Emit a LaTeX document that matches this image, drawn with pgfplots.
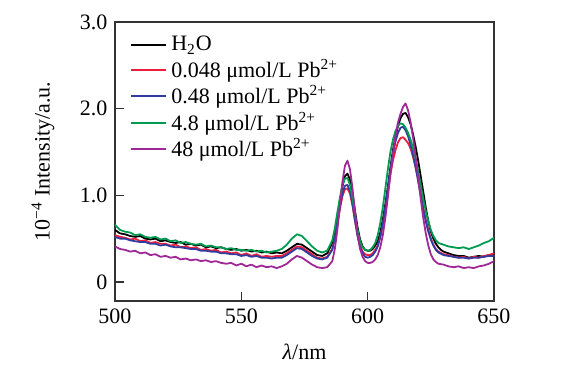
\documentclass[border=0pt]{standalone}
\usepackage{fontspec}
\setmainfont{Liberation Serif}
\usepackage{pgfplots}
\pgfplotsset{compat=1.18}
\definecolor{cred}{RGB}{235,30,60}
\definecolor{cblue}{RGB}{50,60,160}
\definecolor{cgreen}{RGB}{0,155,80}
\definecolor{cpurple}{RGB}{160,40,150}
\begin{document}
\fontsize{11}{13}\selectfont
\begin{tikzpicture}
\useasboundingbox (-57.5pt,-45.5pt) rectangle (227.5pt,150.5pt);
\begin{axis}[
  scale only axis, width=189.5pt, height=139.5pt,
  xmin=500, xmax=650, ymin=-0.22, ymax=3.0,
  xtick={500,550,600,650}, ytick={0,1,2,3},
  yticklabels={0,1.0,2.0,3.0},
  tick align=inside, xtick pos=bottom, ytick pos=left,
  major tick length=4.5pt,
  axis line style={black!80, line width=0.8pt},
  tick style={black!80, line width=0.6pt},
  /pgf/number format/assume math mode=true,
  ticklabel style={font=\fontsize{11}{13}\selectfont},
  /pgf/number format/1000 sep={},
  xlabel={\textit{λ}/nm},
  ylabel={10\textsuperscript{−4} Intensity/a.u.},
  xlabel style={at={(axis description cs:0.5,-0.183)}, anchor=center, font=\fontsize{11}{13}\selectfont},
  ylabel style={at={(axis description cs:-0.19,0.5)}, anchor=center, rotate=0, font=\fontsize{11}{13}\selectfont},
  legend style={draw=none, fill=none, at={(axis description cs:0.04,0.965)}, anchor=north west,
    font=\fontsize{11}{10.5}\selectfont, row sep=-1.5pt, inner sep=0pt},
  legend cell align=left,
  legend image code/.code={\draw[#1, line width=0.9pt] (0pt,0pt) -- (17.5pt,0pt);},
  every axis plot/.append style={line width=0.9pt, line join=round},
]
\addplot[black] coordinates {
(500,0.60)(502,0.56)(504,0.55)(506,0.53)(508,0.52)(510,0.53)(512,0.50)(514,0.49)(516,0.50)(518,0.47)
(520,0.48)(522,0.46)(524,0.45)(526,0.46)(528,0.43)(530,0.44)(532,0.42)(534,0.43)(536,0.40)(538,0.41)
(540,0.39)(542,0.40)(544,0.38)(546,0.37)(548,0.38)(550,0.36)(552,0.37)(554,0.35)(556,0.36)(558,0.34)
(560,0.35)(562,0.33)(564,0.34)(566,0.33)(568,0.36)(570,0.40)(572,0.44)(574,0.43)(576,0.39)(578,0.35)
(580,0.31)(582,0.30)(584,0.33)(586,0.45)(587,0.58)(588,0.75)(589,0.93)(590,1.10)(591,1.22)(592,1.25)
(593,1.18)(594,1.02)(595,0.82)(596,0.63)(597,0.49)(598,0.41)(599,0.37)(600,0.36)(601,0.36)(602,0.38)
(603,0.42)(604,0.47)(605,0.57)(606,0.72)(607,0.90)(608,1.10)(609,1.32)(610,1.52)(611,1.67)(612,1.80)
(613,1.89)(614,1.94)(615,1.95)(616,1.90)(617,1.82)(618,1.70)(619,1.56)(620,1.40)(621,1.22)(622,1.04)
(623,0.86)(624,0.70)(625,0.58)(626,0.50)(627,0.44)(628,0.40)(629,0.37)(630,0.35)(632,0.33)(634,0.31)
(636,0.30)(638,0.30)(640,0.28)(642,0.29)(644,0.30)(646,0.29)(648,0.31)(650,0.32)
};
\addlegendentry{H\textsubscript{2}O}
\addplot[cred] coordinates {
(500,0.54)(502,0.52)(504,0.51)(506,0.49)(508,0.50)(510,0.47)(512,0.48)(514,0.45)(516,0.46)(518,0.44)
(520,0.44)(522,0.42)(524,0.43)(526,0.40)(528,0.41)(530,0.39)(532,0.40)(534,0.37)(536,0.38)(538,0.36)
(540,0.37)(542,0.34)(544,0.35)(546,0.33)(548,0.34)(550,0.31)(552,0.33)(554,0.30)(556,0.32)(558,0.29)
(560,0.30)(562,0.29)(564,0.30)(566,0.30)(568,0.33)(570,0.37)(572,0.41)(574,0.40)(576,0.36)(578,0.32)
(580,0.28)(582,0.27)(584,0.29)(586,0.38)(587,0.50)(588,0.66)(589,0.84)(590,0.99)(591,1.07)(592,1.08)
(593,1.02)(594,0.88)(595,0.70)(596,0.54)(597,0.42)(598,0.35)(599,0.32)(600,0.31)(601,0.31)(602,0.33)
(603,0.37)(604,0.42)(605,0.52)(606,0.66)(607,0.84)(608,1.04)(609,1.24)(610,1.40)(611,1.52)(612,1.61)
(613,1.66)(614,1.67)(615,1.64)(616,1.60)(617,1.54)(618,1.44)(619,1.32)(620,1.18)(621,1.02)(622,0.86)
(623,0.72)(624,0.60)(625,0.50)(626,0.43)(627,0.38)(628,0.35)(630,0.32)(632,0.31)(634,0.29)(636,0.28)
(638,0.29)(640,0.27)(642,0.29)(644,0.28)(646,0.30)(648,0.31)(650,0.33)
};
\addlegendentry{0.048 μmol/L Pb\textsuperscript{2+}}
\addplot[cblue] coordinates {
(500,0.52)(502,0.50)(504,0.50)(506,0.48)(508,0.47)(510,0.46)(512,0.46)(514,0.44)(516,0.44)(518,0.42)
(520,0.43)(522,0.41)(524,0.40)(526,0.40)(528,0.39)(530,0.38)(532,0.38)(534,0.36)(536,0.36)(538,0.35)
(540,0.35)(542,0.33)(544,0.33)(546,0.32)(548,0.32)(550,0.30)(552,0.31)(554,0.29)(556,0.30)(558,0.28)
(560,0.28)(562,0.27)(564,0.28)(566,0.28)(568,0.31)(570,0.35)(572,0.39)(574,0.38)(576,0.34)(578,0.30)
(580,0.27)(582,0.26)(584,0.28)(586,0.37)(587,0.50)(588,0.67)(589,0.86)(590,1.02)(591,1.11)(592,1.12)
(593,1.05)(594,0.90)(595,0.71)(596,0.53)(597,0.40)(598,0.33)(599,0.29)(600,0.28)(601,0.29)(602,0.31)
(603,0.35)(604,0.41)(605,0.52)(606,0.67)(607,0.86)(608,1.08)(609,1.30)(610,1.48)(611,1.62)(612,1.72)
(613,1.78)(614,1.79)(615,1.75)(616,1.68)(617,1.58)(618,1.46)(619,1.32)(620,1.16)(621,1.00)(622,0.84)
(623,0.70)(624,0.58)(625,0.49)(626,0.42)(627,0.37)(628,0.34)(630,0.31)(632,0.30)(634,0.29)(636,0.28)
(638,0.28)(640,0.27)(642,0.28)(644,0.28)(646,0.29)(648,0.30)(650,0.30)
};
\addlegendentry{0.48 μmol/L Pb\textsuperscript{2+}}
\addplot[cgreen] coordinates {
(500,0.66)(501,0.63)(502,0.60)(504,0.58)(506,0.57)(508,0.54)(510,0.55)(512,0.52)(514,0.51)(516,0.52)
(518,0.49)(520,0.50)(522,0.47)(524,0.48)(526,0.45)(528,0.46)(530,0.44)(532,0.43)(534,0.44)(536,0.41)
(538,0.42)(540,0.40)(542,0.40)(544,0.38)(546,0.39)(548,0.37)(550,0.37)(552,0.36)(554,0.37)(556,0.35)
(558,0.36)(560,0.34)(562,0.35)(564,0.36)(566,0.38)(568,0.43)(570,0.50)(572,0.55)(574,0.53)(576,0.47)
(578,0.41)(580,0.36)(582,0.34)(584,0.36)(586,0.48)(587,0.62)(588,0.80)(589,0.97)(590,1.12)(591,1.19)
(592,1.20)(593,1.12)(594,0.96)(595,0.78)(596,0.60)(597,0.47)(598,0.40)(599,0.37)(600,0.36)(601,0.37)
(602,0.40)(603,0.45)(604,0.54)(605,0.68)(606,0.86)(607,1.08)(608,1.30)(609,1.50)(610,1.64)(611,1.74)
(612,1.80)(613,1.83)(614,1.82)(615,1.78)(616,1.72)(617,1.64)(618,1.54)(619,1.42)(620,1.28)(621,1.12)
(622,0.96)(623,0.82)(624,0.70)(625,0.60)(626,0.53)(627,0.48)(628,0.45)(630,0.43)(632,0.41)(634,0.40)
(636,0.39)(638,0.40)(640,0.38)(642,0.40)(644,0.42)(646,0.45)(648,0.47)(650,0.51)
};
\addlegendentry{4.8 μmol/L Pb\textsuperscript{2+}}
\addplot[cpurple] coordinates {
(500,0.41)(502,0.38)(504,0.37)(506,0.35)(508,0.36)(510,0.33)(512,0.34)(514,0.31)(516,0.32)(518,0.29)
(520,0.30)(522,0.28)(524,0.29)(526,0.26)(528,0.27)(530,0.25)(532,0.26)(534,0.24)(536,0.25)(538,0.23)
(540,0.24)(542,0.22)(544,0.21)(546,0.22)(548,0.19)(550,0.21)(552,0.18)(554,0.20)(556,0.17)(558,0.19)
(560,0.17)(562,0.18)(564,0.16)(566,0.18)(568,0.21)(570,0.26)(572,0.30)(574,0.28)(576,0.24)(578,0.20)
(580,0.17)(582,0.16)(584,0.17)(586,0.24)(587,0.38)(588,0.60)(589,0.88)(590,1.15)(591,1.34)(592,1.40)
(593,1.30)(594,1.08)(595,0.80)(596,0.55)(597,0.38)(598,0.29)(599,0.24)(600,0.22)(601,0.22)(602,0.23)
(603,0.26)(604,0.31)(605,0.40)(606,0.54)(607,0.74)(608,0.98)(609,1.24)(610,1.48)(611,1.68)(612,1.84)
(613,1.94)(614,2.02)(615,2.06)(616,1.98)(617,1.84)(618,1.66)(619,1.44)(620,1.20)(621,0.96)(622,0.74)
(623,0.56)(624,0.42)(625,0.32)(626,0.26)(627,0.23)(628,0.21)(630,0.20)(632,0.18)(634,0.17)(636,0.18)
(638,0.16)(640,0.17)(642,0.16)(644,0.18)(646,0.19)(648,0.21)(650,0.24)
};
\addlegendentry{48 μmol/L Pb\textsuperscript{2+}}
\end{axis}
\end{tikzpicture}
\end{document}
